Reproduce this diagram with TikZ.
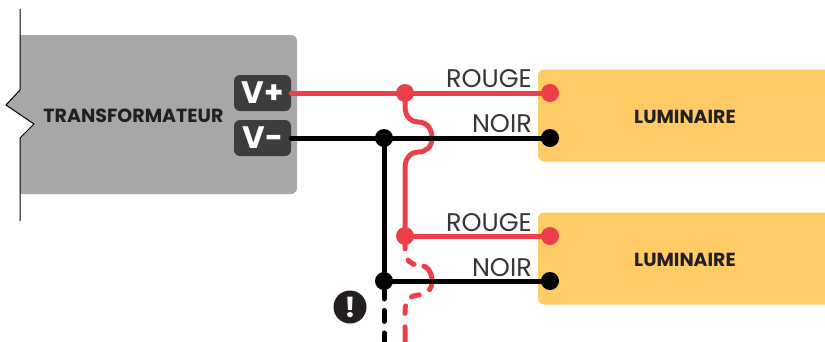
\documentclass[tikz,border=0pt]{standalone}
\usepackage{fontspec}
\setmainfont{Poppins}
\usepackage{tikz}
\definecolor{rouge}{HTML}{EC3F4A}
\definecolor{gristransfo}{HTML}{A7A7A9}
\definecolor{grisborne}{HTML}{3D3D3D}
\definecolor{jaune}{HTML}{FFCB64}
\definecolor{encre}{HTML}{231F20}
\tikzset{
	borne/.style={fill=grisborne,text=white,rounded corners=6,minimum width=57,minimum height=36,inner sep=0,font=\fontsize{31}{31}\bfseries},
	luminaire/.style={fill=jaune,text=encre,rounded corners=6,minimum width=294,minimum height=92,inner sep=0,text height=15.5,text depth=0,font=\fontsize{18.9}{18.9}\bfseries},
	fil/.style={line width=5,line cap=round},
	point/.style={circle,fill=#1,minimum size=18,inner sep=0},
	etiquette/.style={anchor=base east,inner sep=0,text=encre!90,font=\fontsize{25.5}{25.5}\selectfont},
}
\begin{document}
\begin{tikzpicture}[x=1pt,y=-1pt]
		\useasboundingbox (0,0) rectangle (825,341);
		\fill[gristransfo] (20,35) [rounded corners=6] -- (297,35) -- (297,194) [sharp corners] -- (20,194) -- (20,138) -- (34,124) -- (6,105) -- (20,90) -- cycle;
		\draw[line width=1] (20,9) -- (20,90) -- (6,105) -- (34,124) -- (20,138) -- (20,221);
		\node[text=encre,inner sep=0,font=\fontsize{19}{19}\bfseries] (transfo) at (133.5,115.5) {TRANSFORMATEUR};
		\node[borne] (vplus) at (262.5,93) {V+};
		\node[borne] (vmoins) at (262.5,138) {V−};
		\node[luminaire] (luma) at (685,115.5) {LUMINAIRE};
		\node[luminaire] (lumb) at (685,258.5) {LUMINAIRE};
		\node[point=rouge] (ra) at (405,93) {};
		\node[point=rouge] (rb) at (405,236) {};
		\node[point=rouge] (rla) at (550,93) {};
		\node[point=rouge] (rlb) at (550,236) {};
		\node[point=black] (na) at (384,138) {};
		\node[point=black] (nb) at (384,281) {};
		\node[point=black] (nla) at (550,138) {};
		\node[point=black] (nlb) at (550,281) {};
		\coordinate (finr) at (405,343);
		\coordinate (finn) at (384,343);
		% fils rouges
		\draw[fil,rouge] (vplus.east) -- (rla);
		\draw[fil,rouge] (rb) -- (rlb);
		\draw[fil,rouge] (ra) -- (405,106) .. controls (405,118) and (412,122) .. (418,122) .. controls (428,122) and (432,130) .. (432,138) .. controls (432,147) and (426,152) .. (418,152) .. controls (411,152) and (405,158) .. (405,168) -- (rb);
		\draw[fil,rouge,dash pattern=on 3.7 off 11.8 on 7.5 off 10 on 27 off 12 on 8 off 11 on 7.5 off 13.5 on 30 off 10] (rb) -- (405,249) .. controls (405,261) and (412,265) .. (418,265) .. controls (428,265) and (432,273) .. (432,281) .. controls (432,290) and (426,295) .. (418,295) .. controls (411,295) and (405,301) .. (405,311) -- (finr);
		% fils noirs
		\draw[fil,black] (vmoins.east) -- (nla);
		\draw[fil,black] (na) -- (nb);
		\draw[fil,black] (nb) -- (nlb);
		\draw[fil,black,dash pattern=on 11 off 11.5,dash phase=2.25] (nb) -- (finn);
		\node[etiquette] (ta) at (532,87.5) {ROUGE};
		\node[etiquette] (tb) at (532,132) {NOIR};
		\node[etiquette] (tc) at (532,231) {ROUGE};
		\node[etiquette] (td) at (532,276) {NOIR};
		\node[circle,fill=encre,text=white,minimum size=33,inner sep=0,font=\fontsize{28}{28}\bfseries] (alerte) at (350,307) {!};
	\end{tikzpicture}
\end{document}
